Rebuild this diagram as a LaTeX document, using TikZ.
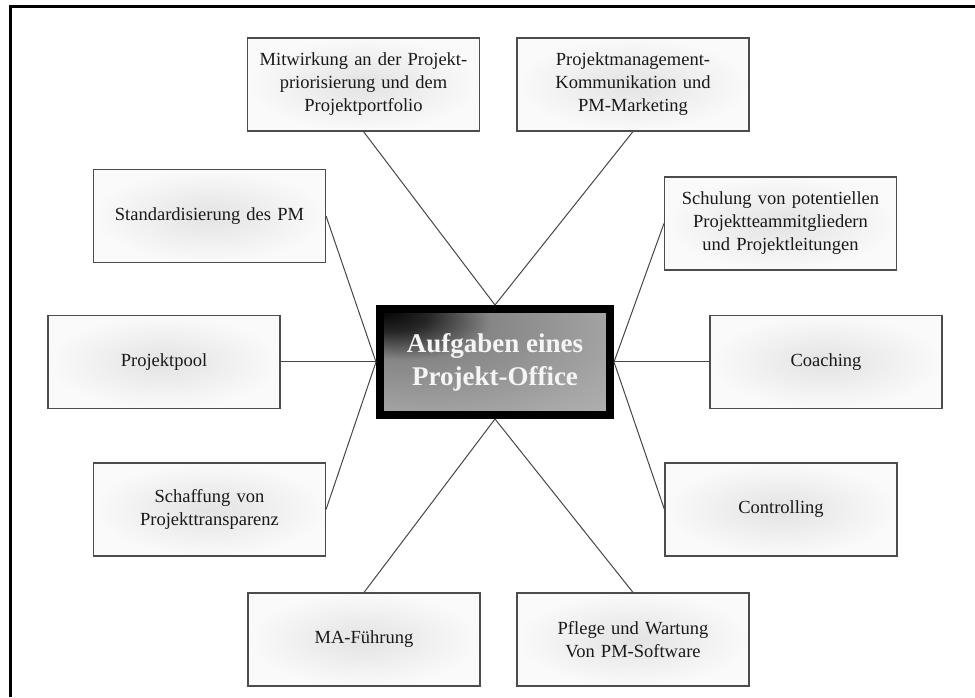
\documentclass[tikz,border=0pt]{standalone}
\usepackage{fontspec}
\setmainfont{Liberation Serif}
\pgfdeclareradialshading{officeglow}{\pgfpoint{-25bp}{25bp}}{%
  color(0bp)=(black); color(8bp)=(black!85); color(18bp)=(gray!95);
  color(24bp)=(gray!88); color(39bp)=(gray!70); color(48bp)=(gray!62);
  color(75bp)=(gray!55)}
\begin{document}
\begin{tikzpicture}[x=1pt, y=1pt,
    task/.style={rectangle, draw=gray!60!black, line width=1.1pt,
      inner color=gray!22, outer color=gray!4, minimum width=232pt,
      minimum height=93pt, text width=224pt, inner sep=0pt,
      align=center, text=black!90,
      font=\fontsize{18.5}{23}\selectfont},
    office/.style={rectangle, draw=black, line width=8pt, shade,
      shading=officeglow, minimum width=230pt, minimum height=106pt,
      inner sep=0pt, align=center, text=gray!8,
      font=\bfseries\fontsize{27}{33}\selectfont}]
  \useasboundingbox (0,0) rectangle (975,697);
  \draw [line width=3pt] (10,0) -- (10,690) -- (975,690);

  \node [office] (po) at (495,335) {Aufgaben eines\\Projekt-Office};

  \begin{scope}[every node/.style={task}]
    \node (mitw) at (363.5,612.5) {Mitwirkung an der Projekt-\\priorisierung und dem\\Projektportfolio};
    \node (pmk) at (633,612.5) {Projektmanagement-\\Kommunikation und\\PM-Marketing};
    \node (std) at (209.5,481) {Standardisierung des PM};
    \node (schul) at (780.5,473.5) {Schulung von potentiellen\\Projektteammitgliedern\\und Projektleitungen};
    \node (pool) at (164,335) {Projektpool};
    \node (coach) at (826,335) {Coaching};
    \node (schaff) at (209.5,187.5) {Schaffung von\\Projekttransparenz};
    \node (contr) at (781,187.5) {Controlling};
    \node (ma) at (364,57.5) {MA-Führung};
    \node (pfl) at (633,57.5) {Pflege und Wartung\\Von PM-Software};
  \end{scope}

  \begin{scope}[draw=gray!55!black, line width=1pt]
    \draw (mitw.south) to (po.north); \draw (pmk.south) to (po.north);
    \draw (std.east) to (po.west); \draw (pool.east) to (po.west);
    \draw (schaff.east) to (po.west);
    \draw (schul.west) to (po.east); \draw (coach.west) to (po.east);
    \draw (contr.west) to (po.east);
    \draw (ma.north) to (po.south); \draw (pfl.north) to (po.south);
  \end{scope}
\end{tikzpicture}
\end{document}
